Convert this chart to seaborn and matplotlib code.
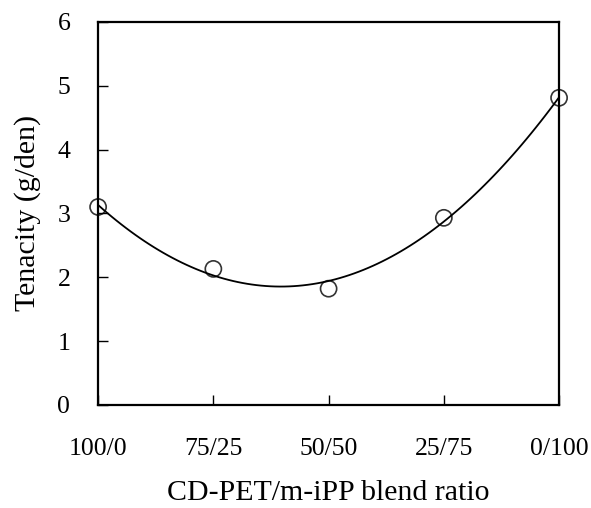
import numpy as np
import pandas as pd
import matplotlib
matplotlib.use("Agg")
import matplotlib.pyplot as plt
import seaborn as sns

categories = ["100/0", "75/25", "50/50", "25/75", "0/100"]
tenacity = [3.10, 2.13, 1.82, 2.93, 4.81]
y_ticks = [0, 1, 2, 3, 4, 5, 6]

sns.set_theme(style="white")
plt.rcParams["font.family"] = ["Liberation Serif", "DejaVu Serif"]

df = pd.DataFrame({"pos": np.arange(len(categories)), "tenacity": tenacity})

fig = plt.figure(figsize=(5.91, 5.08), dpi=100)
ax = fig.add_axes([0.166, 0.203, 0.780, 0.754])

sns.regplot(data=df, x="pos", y="tenacity", order=2, ci=None, ax=ax,
            truncate=True,
            scatter_kws=dict(s=135, facecolors="none", edgecolors="black",
                             linewidths=1.2, zorder=3, clip_on=False),
            line_kws=dict(color="black", lw=1.3))

ax.set_xlim(0, len(categories) - 1)
ax.set_ylim(0, 6)
ax.set_xticks(np.arange(len(categories)))
ax.set_xticklabels(categories)
ax.set_yticks(y_ticks)
ax.set_yticklabels([str(t) for t in y_ticks])

for s in ax.spines.values():
    s.set_color("black")
    s.set_linewidth(1.6)

ax.tick_params(axis="both", direction="in", length=7, width=1.0,
               colors="black", labelsize=18.5)
ax.tick_params(axis="x", pad=24, bottom=True)
ax.tick_params(axis="y", pad=20, left=True)

ax.set_xlabel("CD-PET/m-iPP blend ratio", fontsize=21.5, labelpad=14, color="black")
ax.set_ylabel("Tenacity (g/den)", fontsize=21.5, labelpad=12, color="black")

fig.savefig("out.png", dpi=100)
